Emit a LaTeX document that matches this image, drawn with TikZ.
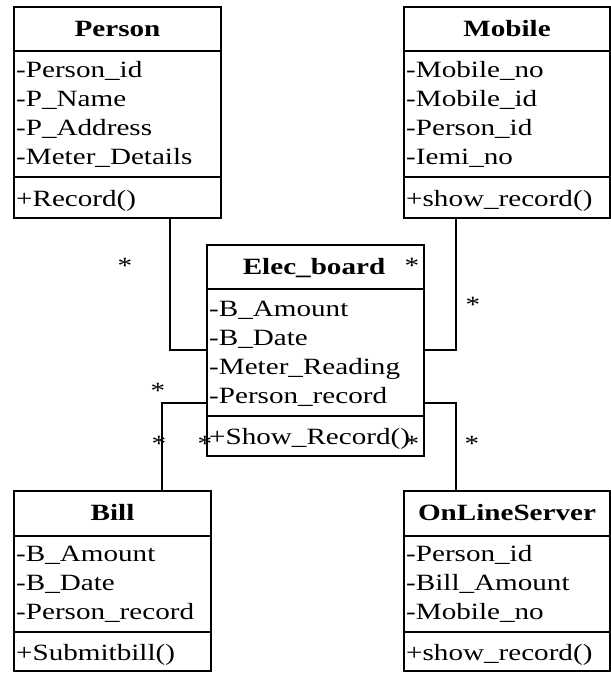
\documentclass[tikz,border=0pt]{standalone}
\usepackage{fontspec}
\setmainfont[FakeStretch=1.25]{Liberation Serif}
\begin{document}
\begin{tikzpicture}[x=1pt,y=-1pt,
  font=\fontsize{23.3}{29}\selectfont,
  umlbox/.style={draw, line width=2pt, inner sep=0pt},
  sepline/.style={line width=2pt},
  conn/.style={line width=1.3pt},
  attr/.style={anchor=base west, inner sep=0pt},
  clstitle/.style={anchor=base, inner sep=0pt, font=\fontsize{23.3}{29}\selectfont\bfseries},
  mult/.style={anchor=base, inner sep=0pt}]
\useasboundingbox (0,0) rectangle (611,673);

% ---------- Person ----------
\node[umlbox, minimum width=207pt, minimum height=211pt] (person) at (117.5,112.5) {};
\draw[sepline] ([yshift=-45pt]person.north west) -- ([yshift=-45pt]person.north east);
\draw[sepline] ([yshift=-171pt]person.north west) -- ([yshift=-171pt]person.north east);
\node[clstitle] (persont) at (117.5,36) {Person};
\node[attr] (pa1) at (16,77) {-Person\_id};
\node[attr] (pa2) at (16,106) {-P\_Name};
\node[attr] (pa3) at (16,135) {-P\_Address};
\node[attr] (pa4) at (16,164) {-Meter\_Details};
\node[attr] (pm1) at (16,206) {+Record()};

% ---------- Mobile ----------
\node[umlbox, minimum width=206pt, minimum height=211pt] (mobile) at (507,112.5) {};
\draw[sepline] ([yshift=-45pt]mobile.north west) -- ([yshift=-45pt]mobile.north east);
\draw[sepline] ([yshift=-171pt]mobile.north west) -- ([yshift=-171pt]mobile.north east);
\node[clstitle] (mobilet) at (507,36) {Mobile};
\node[attr] (ma1) at (406,77) {-Mobile\_no};
\node[attr] (ma2) at (406,106) {-Mobile\_id};
\node[attr] (ma3) at (406,135) {-Person\_id};
\node[attr] (ma4) at (406,164) {-Iemi\_no};
\node[attr] (mm1) at (406,206) {+show\_record()};

% ---------- Elec_board ----------
\node[umlbox, minimum width=217pt, minimum height=211pt] (elec) at (315.5,350.5) {};
\draw[sepline] ([yshift=-45pt]elec.north west) -- ([yshift=-45pt]elec.north east);
\draw[sepline] ([yshift=-172pt]elec.north west) -- ([yshift=-172pt]elec.north east);
\node[clstitle] (elect) at (314,274) {Elec\_board};
\node[attr] (ea1) at (209,316) {-B\_Amount};
\node[attr] (ea2) at (209,345) {-B\_Date};
\node[attr] (ea3) at (209,374) {-Meter\_Reading};
\node[attr] (ea4) at (209,403) {-Person\_record};
\node[attr] (em1) at (209,444) {+Show\_Record()};

% ---------- Bill ----------
\node[umlbox, minimum width=197pt, minimum height=180pt] (bill) at (112.5,581) {};
\draw[sepline] ([yshift=-46pt]bill.north west) -- ([yshift=-46pt]bill.north east);
\draw[sepline] ([yshift=-142pt]bill.north west) -- ([yshift=-142pt]bill.north east);
\node[clstitle] (billt) at (112.5,520) {Bill};
\node[attr] (ba1) at (16,561) {-B\_Amount};
\node[attr] (ba2) at (16,590) {-B\_Date};
\node[attr] (ba3) at (16,619) {-Person\_record};
\node[attr] (bm1) at (16,660) {+Submitbill()};

% ---------- OnLineServer ----------
\node[umlbox, minimum width=206pt, minimum height=180pt] (ols) at (507,581) {};
\draw[sepline] ([yshift=-46pt]ols.north west) -- ([yshift=-46pt]ols.north east);
\draw[sepline] ([yshift=-142pt]ols.north west) -- ([yshift=-142pt]ols.north east);
\node[clstitle] (olst) at (507,520) {OnLineServer};
\node[attr] (oa1) at (406,561) {-Person\_id};
\node[attr] (oa2) at (406,590) {-Bill\_Amount};
\node[attr] (oa3) at (406,619) {-Mobile\_no};
\node[attr] (om1) at (406,660) {+show\_record()};

% ---------- connectors ----------
\coordinate (j1) at (170,350);
\coordinate (j2) at (456,350);
\coordinate (j3) at (162,403);
\coordinate (j4) at (456,403);
\draw[conn] (j1 |- person.south) -- (j1) -- (j1 -| elec.west);
\draw[conn] (j2 |- mobile.south) -- (j2) -- (j2 -| elec.east);
\draw[conn] (j3 -| elec.west) -- (j3) -- (j3 |- bill.north);
\draw[conn] (j4 -| elec.east) -- (j4) -- (j4 |- ols.north);

% ---------- multiplicities ----------
\node[mult] (s1) at (125,273) {*};
\node[mult] (s2) at (412,273) {*};
\node[mult] (s3) at (473,312) {*};
\node[mult] (s4) at (158,398) {*};
\node[mult] (s5) at (159,451) {*};
\node[mult] (s6) at (205,451) {*};
\node[mult] (s7) at (412,451) {*};
\node[mult] (s8) at (472,451) {*};
\end{tikzpicture}
\end{document}
